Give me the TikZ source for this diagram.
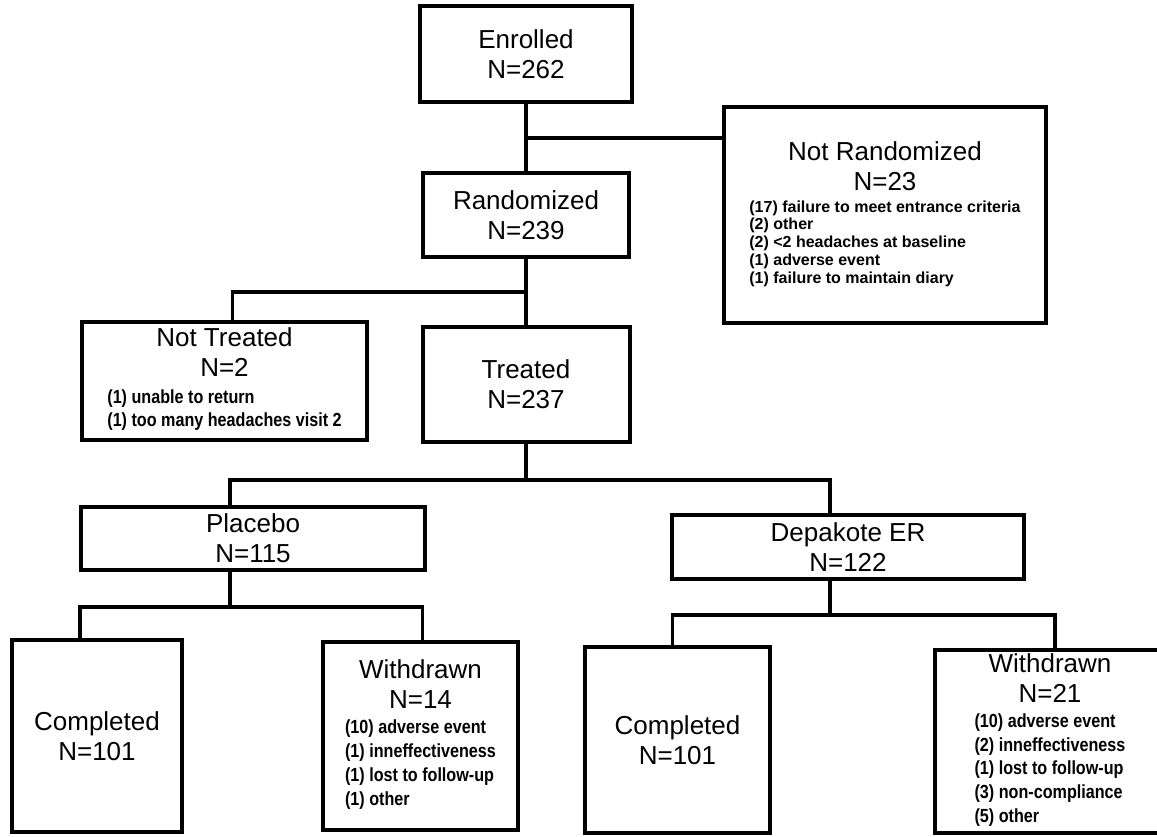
\documentclass[tikz,border=0pt]{standalone}
\usepackage{fontspec}
\setmainfont{Liberation Sans}
\newfontfamily\narrowfont[FakeStretch=0.85]{Liberation Sans}
\newcommand{\reasonlist}[4]{{#1\bfseries\fontsize{#2}{#3}\selectfont\begin{tabular}[t]{@{}l@{}}#4\end{tabular}}}
\begin{document}
\begin{tikzpicture}[x=0.5pt,y=0.5pt]
\tikzstyle{every node}+=[inner sep=0pt]
\tikzstyle{box}=[draw=black, line width=2pt, align=center, font=\fontsize{13}{15}\selectfont]
\tikzstyle{link}=[draw=black, line width=1.6pt]
\useasboundingbox (0,0) rectangle (1157,-836);
\node [box, minimum width=106pt, minimum height=48pt] (enr) at (526,-54) {Enrolled\\N=262};
\node [box, minimum width=103pt, minimum height=42pt] (rnd) at (526,-215) {Randomized\\N=239};
\node [box, minimum width=161pt, minimum height=108pt] (nrand) at (885,-215) {Not Randomized\\N=23\\[-4pt]\reasonlist{\rmfamily}{8}{8.9}{(17) failure to meet entrance criteria\\(2) other\\(2) <2 headaches at baseline\\(1) adverse event\\(1) failure to maintain diary}};
\node [box, minimum width=142.5pt, minimum height=59pt] (ntr) at (224.5,-381) {Not Treated\\N=2\\[-1.5pt]\reasonlist{\narrowfont}{9.5}{11.5}{(1) unable to return\\(1) too many headaches visit 2}};
\node [box, minimum width=103.5pt, minimum height=57.5pt] (trt) at (526,-384.5) {Treated\\N=237};
\node [box, minimum width=172pt, minimum height=31.5pt] (plc) at (253,-538.5) {Placebo\\N=115};
\node [box, minimum width=176pt, minimum height=32pt] (dep) at (848,-547) {Depakote ER\\N=122};
\node [box, minimum width=85pt, minimum height=96pt] (cm1) at (97,-736) {Completed\\N=101};
\node [box, minimum width=97.5pt, minimum height=94pt] (wd1) at (420.5,-736) {Withdrawn\\N=14\\[-2.5pt]\reasonlist{\narrowfont}{9.5}{12}{(10) adverse event\\(1) inneffectiveness\\(1) lost to follow-up\\(1) other}};
\node [box, minimum width=92.5pt, minimum height=93pt] (cm2) at (677.5,-740) {Completed\\N=101};
\node [box, minimum width=115pt, minimum height=91.5pt] (wd2) at (1050,-741.5) {Withdrawn\\N=21\\[-2.5pt]\reasonlist{\narrowfont}{9.5}{11.9}{(10) adverse event\\(2) inneffectiveness\\(1) lost to follow-up\\(3) non-compliance\\(5) other}};
\coordinate (je) at (526,-138);
\coordinate (jr) at (526,-292);
\coordinate (jt) at (526,-480);
\coordinate (jp) at (230,-607);
\coordinate (jd) at (830,-615);
\draw [link] (enr) -- (rnd);
\draw [link] (je) -- (je -| nrand.west);
\draw [link] (rnd) -- (trt);
\draw [link] (jr) -| ([xshift=4pt]ntr.north);
\draw [link] (trt) -- (jt);
\draw [link] ([xshift=-11.5pt]plc.north) |- (jt) -| ([xshift=-9pt]dep.north);
\draw [link] ([xshift=-11.5pt]plc.south) -- (jp);
\draw [link] ([xshift=-8.5pt]cm1.north) |- (jp) -| ([xshift=1pt]wd1.north);
\draw [link] ([xshift=-9pt]dep.south) -- (jd);
\draw [link] ([xshift=-2.5pt]cm2.north) |- (jd) -| ([xshift=2.5pt]wd2.north);
\end{tikzpicture}
\end{document}
